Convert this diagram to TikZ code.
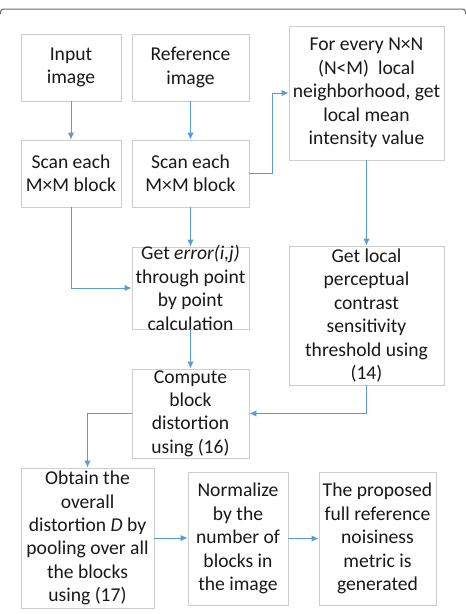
\documentclass[tikz,border=0pt]{standalone}
\usepackage{fontspec}
\setmainfont{Carlito}
\usetikzlibrary{calc,positioning,arrows,arrows.meta}
\definecolor{boxline}{RGB}{205,205,205}
\definecolor{flow}{RGB}{91,155,213}
\definecolor{frameline}{RGB}{105,105,105}
\definecolor{txt}{RGB}{25,25,25}

\begin{document}
\begin{tikzpicture}[x=1pt,y=-1pt,
    box/.style={draw=boxline,line width=0.9pt,fill=white,inner sep=0pt},
    lbl/.style={align=center,inner sep=0pt,text=txt,font=\fontsize{19.6}{23.4}\selectfont},
    flowarr/.style={draw=flow,line width=0.9pt,-{Latex[length=7pt,width=6.5pt]}}]
            \useasboundingbox (0,0) rectangle (466,614);
            \draw[frameline,line width=1pt,rounded corners=3pt] (0.5,14) -- (0.5,9) -- (465.5,9) -- (465.5,14);
            % boxes
            \node[box,minimum width=100pt,minimum height=67pt] (inp) at (71,67.5) {};
            \node[box,minimum width=117pt,minimum height=67pt] (ref) at (190.5,67.5) {};
            \node[box,minimum width=155pt,minimum height=134pt] (nbr) at (366.5,93) {};
            \node[box,minimum width=100pt,minimum height=67pt] (scanA) at (71,173.5) {};
            \node[box,minimum width=117pt,minimum height=67pt] (scanB) at (190.5,173.5) {};
            \node[box,minimum width=117pt,minimum height=82pt] (err) at (190.5,288) {};
            \node[box,minimum width=155pt,minimum height=139pt] (thr) at (366.5,315.5) {};
            \node[box,minimum width=117pt,minimum height=89pt] (comp) at (190.5,413.5) {};
            \node[box,minimum width=133pt,minimum height=140pt] (pool) at (87.5,538) {};
            \node[box,minimum width=100pt,minimum height=133pt] (norm) at (238,538.5) {};
            \node[box,minimum width=117pt,minimum height=133pt] (prop) at (377.5,538.5) {};
            % texts
            \node[lbl] (inpT) at (inp) {Input\\image};
            \node[lbl] (refT) at (ref) {Reference\\image};
            \node[lbl] (nbrT) at (nbr) {For every N×N\\(N<M)\ \ local\\neighborhood, get\\local mean\\intensity value};
            \node[lbl] (scanAT) at (scanA) {Scan each\\M×M block};
            \node[lbl] (scanBT) at (scanB) {Scan each\\M×M block};
            \node[lbl] (errT) at (err) {Get \textit{error(i,j)}\\through point\\by point\\calculation};
            \node[lbl] (thrT) at (thr) {Get local\\perceptual\\contrast\\sensitivity\\threshold using\\(14)};
            \node[lbl] (compT) at (comp) {Compute\\block\\distortion\\using (16)};
            \node[lbl] (poolT) at (pool) {Obtain the\\overall\\distortion \textit{D} by\\pooling over all\\the blocks\\using (17)};
            \node[lbl] (normT) at (norm) {Normalize\\by the\\number of\\blocks in\\the image};
            \node[lbl] (propT) at (prop) {The proposed\\full reference\\noisiness\\metric is\\generated};
            % connectors
            \draw[flowarr] (inp) -- (scanA);
            \draw[flowarr] (ref) -- (scanB);
            \draw[flowarr] (scanB.east) -- ++(23,0) |- (nbr.west);
            \draw[flowarr] (scanA.south) |- (err.west);
            \draw[flowarr] (scanB) -- (err);
            \draw[flowarr] (nbr) -- (thr);
            \draw[flowarr] (err) -- (comp);
            \draw[flowarr] (thr.south) |- (comp.east);
            \draw[flowarr] (comp.west) -| (pool.north);
            \draw[flowarr] (pool.east) -- (norm.west |- pool.east);
            \draw[flowarr] (norm.east) -- (prop.west);
          \end{tikzpicture}
\end{document}
